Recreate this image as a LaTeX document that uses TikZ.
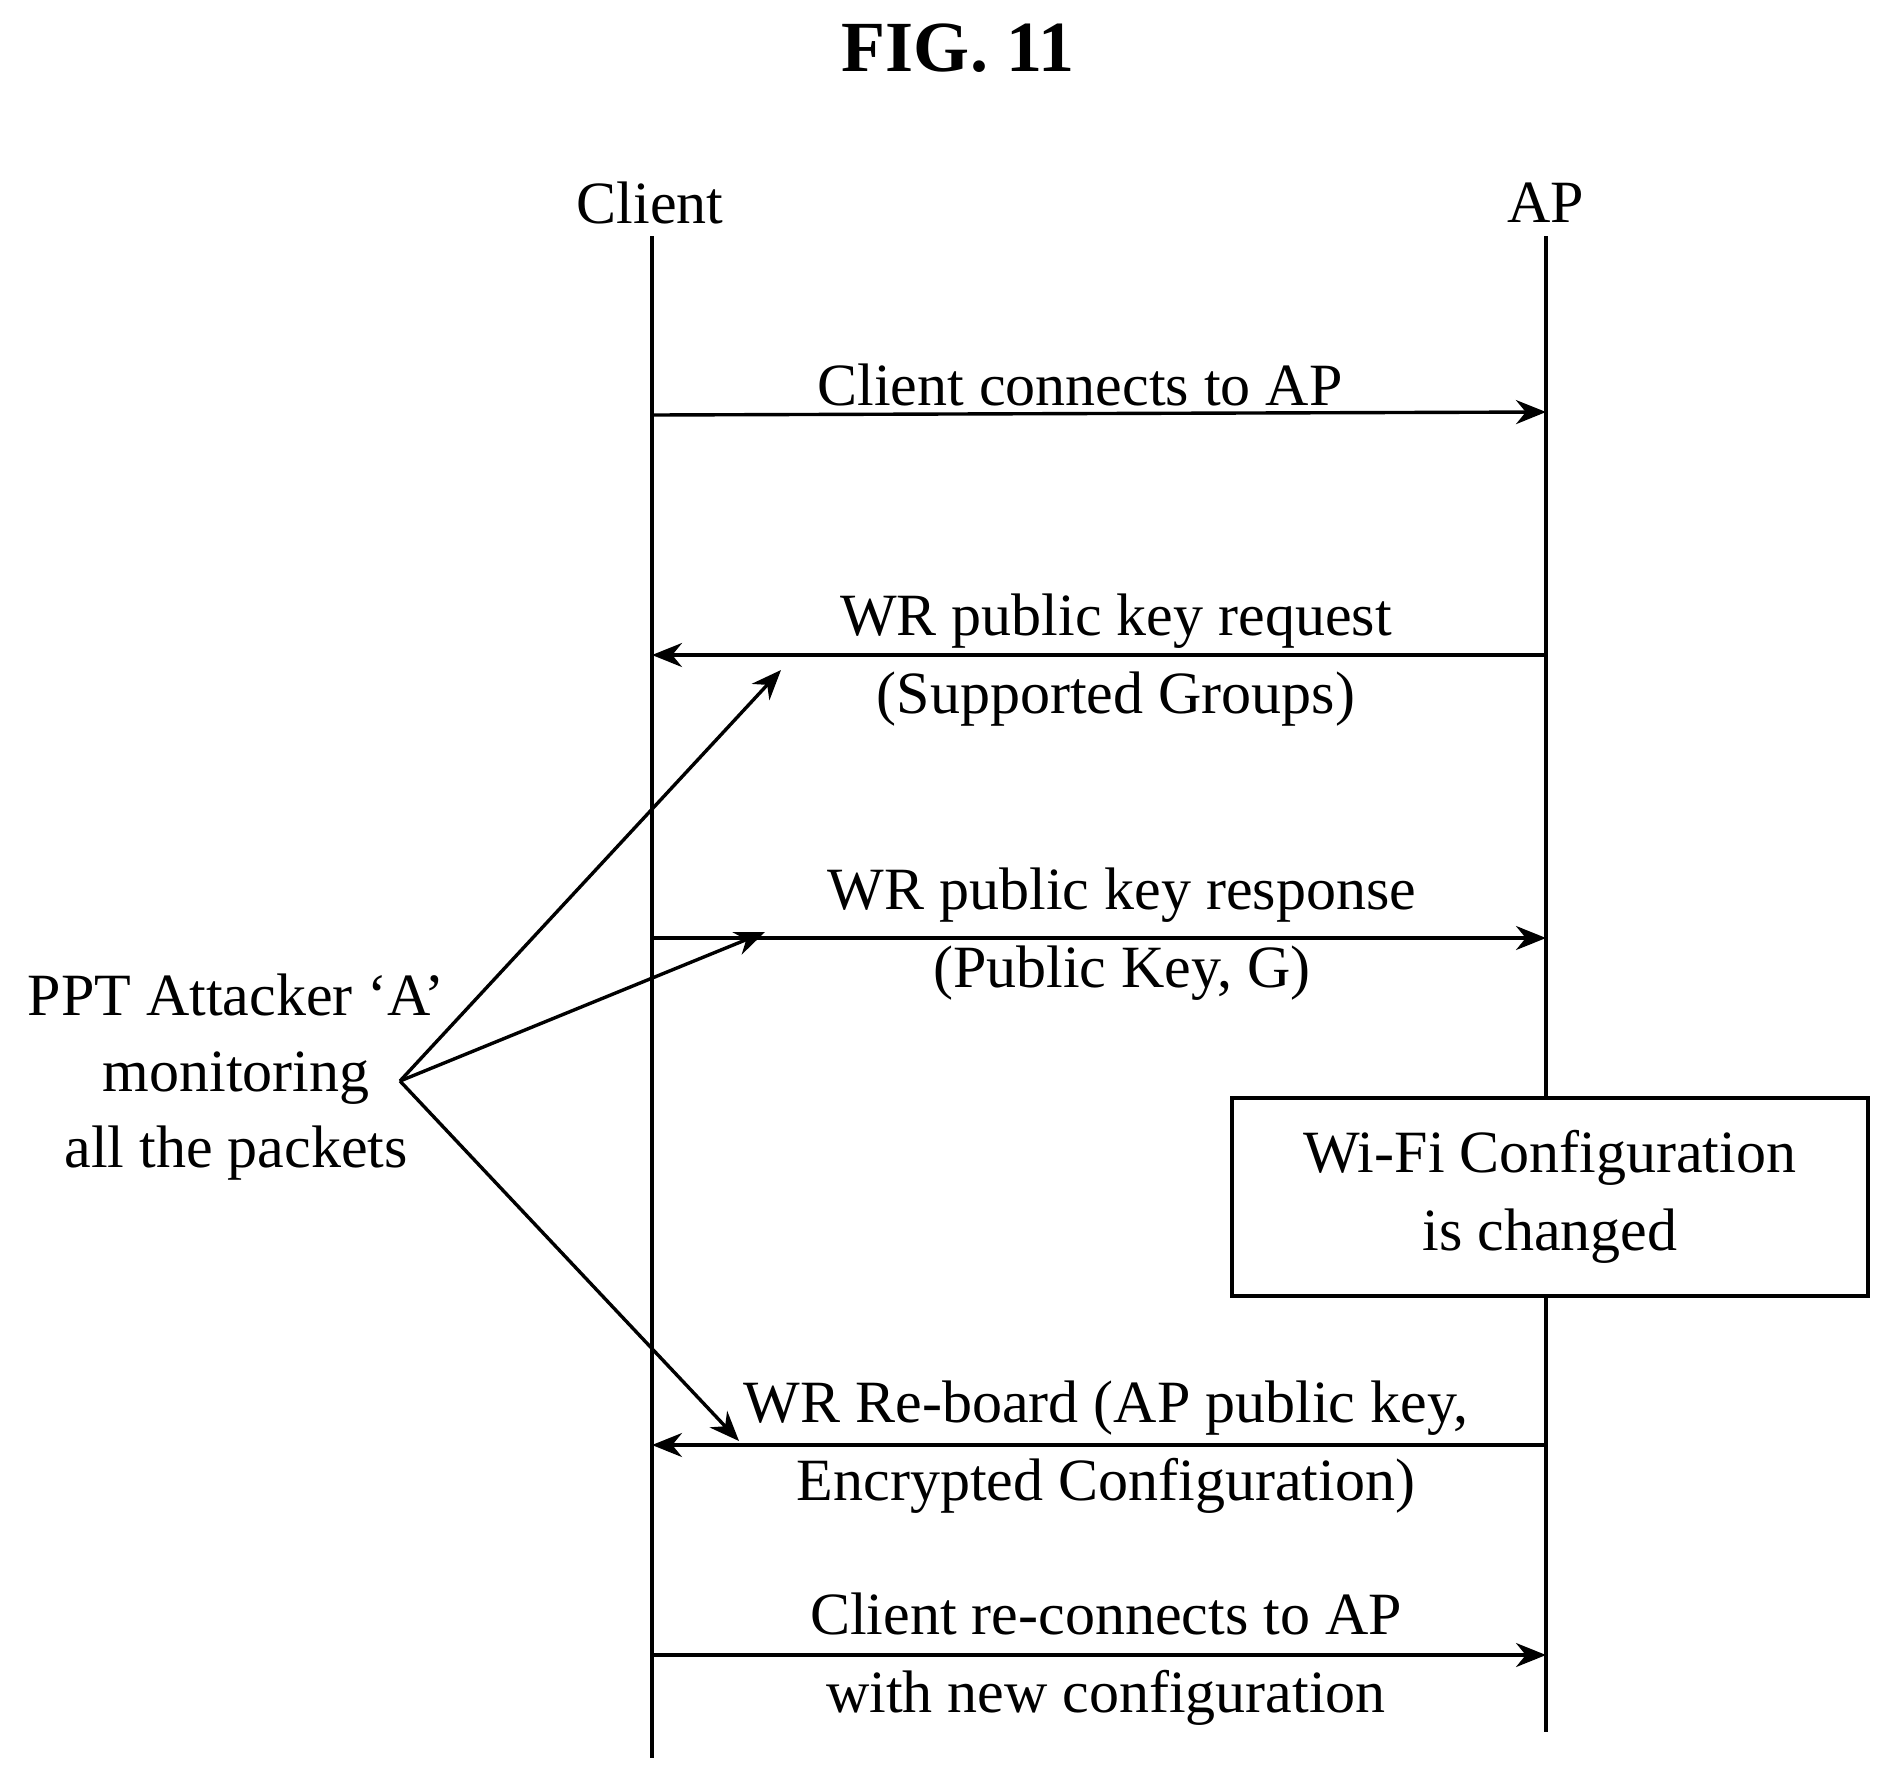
\documentclass[tikz,border=0pt]{standalone}
\usepackage{fontspec}
\setmainfont{Liberation Serif}
\usetikzlibrary{arrows.meta}
\begin{document}
\begin{tikzpicture}[x=1pt,y=-1pt,
  lbl/.style={font=\fontsize{60}{78}\selectfont, align=center, inner sep=0},
  ln/.style={line width=3.4pt},
  msg/.style={ln,-{Stealth[length=30pt,width=24pt]}}]
\useasboundingbox (0,0) rectangle (1889,1773);
\node[font=\bfseries\fontsize{72}{80}\selectfont] (title) at (958,48) {FIG. 11};
\node[lbl] (client) at (650,203) {Client};
\node[lbl] (ap) at (1546,203) {AP};
\coordinate (ct) at (652,236); \coordinate (cb) at (652,1758);
\coordinate (at) at (1546,236); \coordinate (ab) at (1546,1732);
\node[draw, line width=3.4pt, minimum width=636pt, minimum height=198pt, lbl] (box) at (1550,1197) {Wi-Fi Configuration\\is changed};
\draw[ln] (ct) -- (cb);
\draw[ln] (at) -- (box.north -| at);
\draw[ln] (box.south -| at) -- (ab);
% messages
\coordinate (c1) at (652,415); \coordinate (a1) at (1546,412);
\draw[msg] (c1) -- (a1);
\node[lbl] (l1) at (1080,385) {Client connects to AP};
\coordinate (c2) at (652,655); \coordinate (a2) at (1546,655);
\draw[msg] (a2) -- (c2);
\node[lbl] (l2) at (1116,660) {WR public key request\\(Supported Groups)};
\coordinate (c3) at (652,938); \coordinate (a3) at (1546,938);
\draw[msg] (c3) -- (a3);
\node[lbl] (l3) at (1122,934) {WR public key response\\(Public Key, G)};
\coordinate (c4) at (652,1445); \coordinate (a4) at (1546,1445);
\draw[msg] (a4) -- (c4);
\node[lbl] (l4) at (1106,1447) {WR Re-board (AP public key,\\Encrypted Configuration)};
\coordinate (c5) at (652,1655); \coordinate (a5) at (1546,1655);
\draw[msg] (c5) -- (a5);
\node[lbl] (l5) at (1106,1659) {Client re-connects to AP\\with new configuration};
% attacker
\node[lbl, font=\fontsize{60}{76}\selectfont] (att) at (236,1077) {PPT Attacker `A'\\monitoring\\all the packets};
\coordinate (o) at (400,1081);
\coordinate (e1) at (781,670); \coordinate (e2) at (765,932); \coordinate (e3) at (739,1441);
\draw[msg] (o) -- (e1);
\draw[msg] (o) -- (e2);
\draw[msg] (o) -- (e3);
\end{tikzpicture}
\end{document}
